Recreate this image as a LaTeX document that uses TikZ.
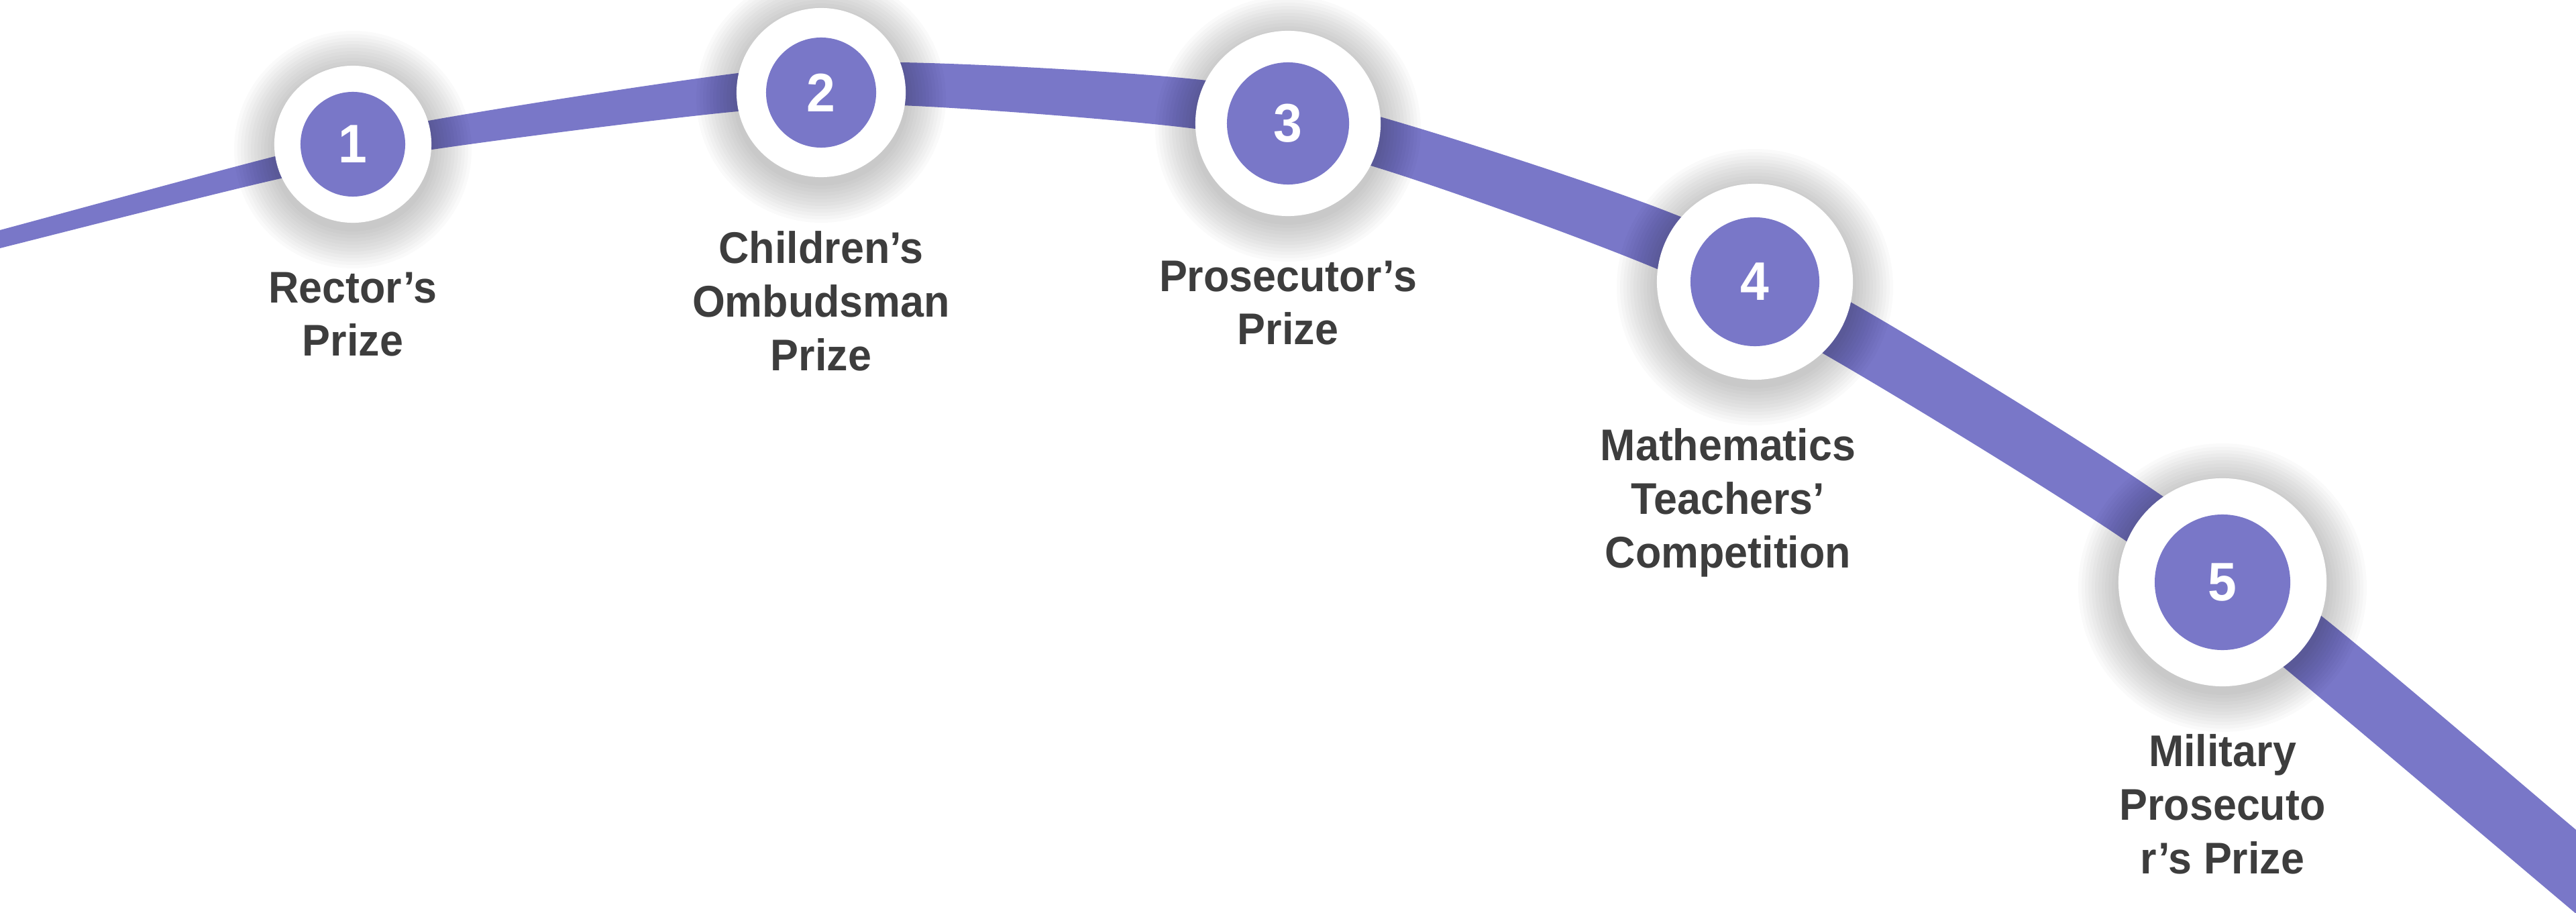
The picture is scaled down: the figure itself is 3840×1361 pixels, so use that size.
\documentclass[tikz,border=0pt]{standalone}
\usepackage{fontspec}
\setmainfont{Liberation Sans}[FakeStretch=0.95]
\usepackage{xcolor}
\usetikzlibrary{positioning}
\definecolor{stepviolet}{HTML}{7977C8}
\definecolor{labelgrey}{HTML}{3D3D3D}

\begin{document}
\begin{tikzpicture}[x=0.01cm,y=-0.01cm,
        stepring/.style={circle,fill=white,inner sep=0pt,minimum size=#1},
        stepdot/.style={circle,fill=stepviolet,text=white,inner sep=0pt,
                        font=\bfseries\fontsize{23pt}{23pt}\selectfont,
                        minimum size=#1},
        steplabel/.style={text=labelgrey,align=center,inner sep=0pt,
                          font=\bfseries\fontsize{18.8pt}{22.7pt}\selectfont}]
  \useasboundingbox (0,0) rectangle (3840,1361);
  \clip (0,0) rectangle (3840,1361);

  % ribbon, getting wider to the right
  \fill[stepviolet]
    plot[smooth,tension=0.55] coordinates {(-20,348) (0,343) (410,233) (644,179)
      (1100,109) (1342,93) (1790,119) (2050,172) (2490,317) (2760,451)
      (3180,710) (3459,917) (3840,1237) (3900,1287)}
    -- plot[smooth,tension=0.55] coordinates {(3900,1412) (3840,1362) (3402,993)
      (3170,807) (2740,540) (2475,403) (2050,249) (1790,193) (1342,157)
      (1100,166) (644,223) (410,268) (0,370) (-20,375)}
    -- cycle;

  % soft shadows
  \foreach \cx/\cy/\r in {526/215/117,1224/138/126,1920/184/138,2616/420/146,3313/868/155}
    \foreach \k in {1,...,12}
      \fill[black,opacity=0.018] (\cx,\cy+8) circle[radius=\r+5*\k];

  \node[stepring=23.4mm] (ring1) at (526,215) {};
  \node[stepring=25.2mm] (ring2) at (1224,138) {};
  \node[stepring=27.6mm] (ring3) at (1920,184) {};
  \node[stepring=29.2mm] (ring4) at (2616,420) {};
  \node[stepring=31mm]   (ring5) at (3313,868) {};

  \node[stepdot=15.6mm] (num1) at (ring1) {1};
  \node[stepdot=16.4mm] (num2) at (ring2) {2};
  \node[stepdot=18.2mm] (num3) at (ring3) {3};
  \node[stepdot=19.2mm] (num4) at (ring4) {4};
  \node[stepdot=20.2mm] (num5) at (ring5) {5};

  \node[steplabel,below=7.2mm of ring1] (lbl1) {Rector’s\\Prize};
  \node[steplabel,below=7.9mm of ring2] (lbl2) {Children’s\\Ombudsman\\Prize};
  \node[steplabel,below=6.5mm of ring3] (lbl3) {Prosecutor’s\\Prize};
  \node[steplabel,below=7.1mm of ring4,xshift=-4mm] (lbl4) {Mathematics\\Teachers’\\Competition};
  \node[steplabel,below=7mm of ring5] (lbl5) {Military\\Prosecuto\\r’s Prize};
\end{tikzpicture}
\end{document}
